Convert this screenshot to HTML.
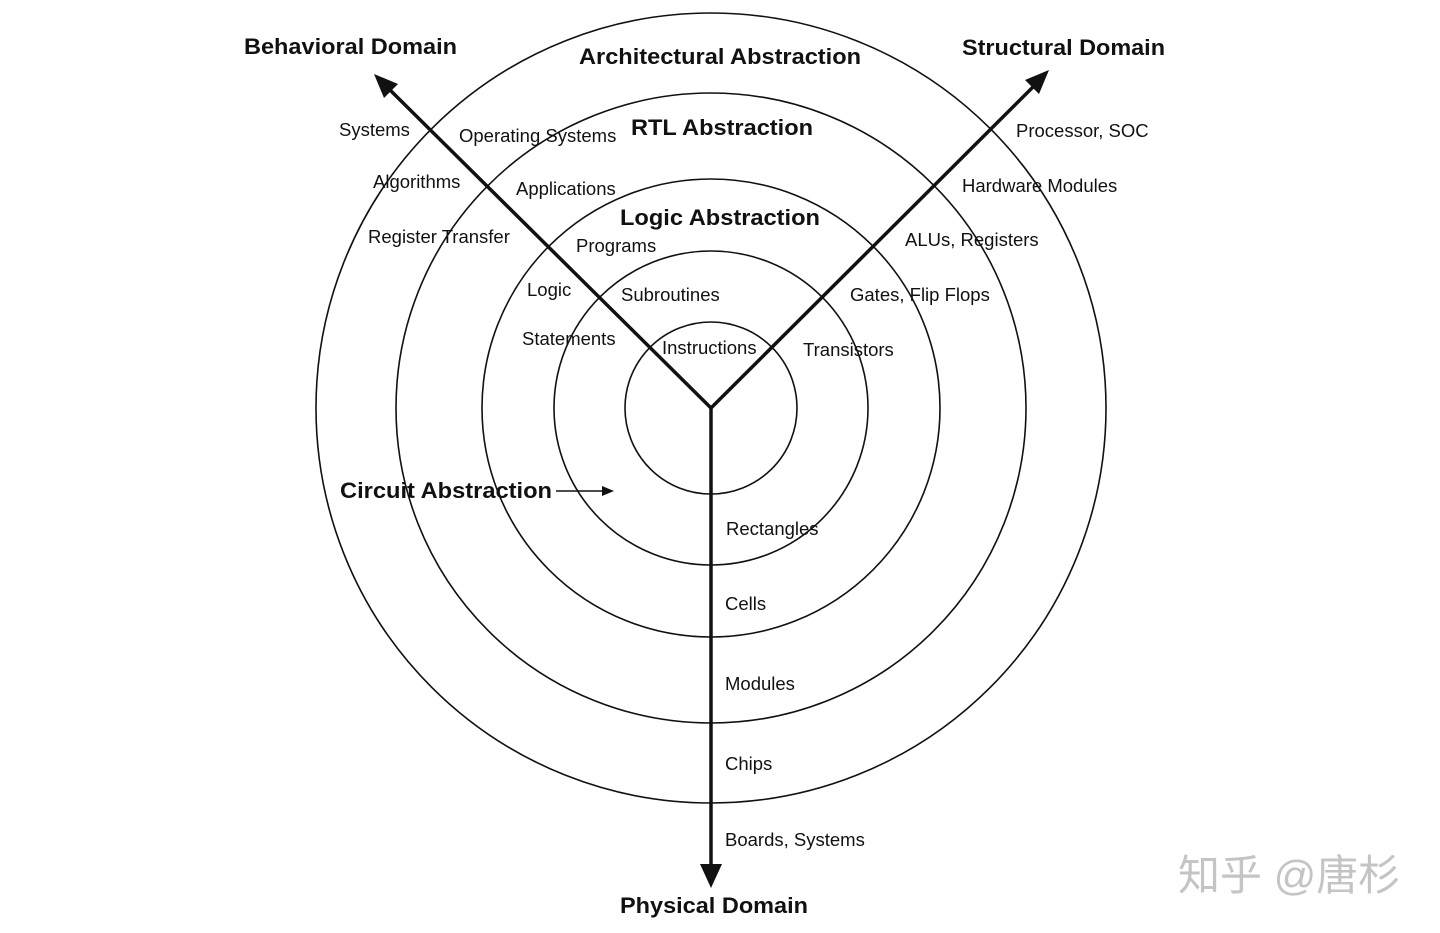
<!DOCTYPE html>
<html><head><meta charset="utf-8"><style>
html,body{margin:0;padding:0;background:#fff;}
svg{display:block;}
text{font-family:"Liberation Sans",Arial,sans-serif;fill:#111;}
.b{font-weight:bold;font-size:22.5px;}
.l{font-size:18.5px;}
</style></head><body>
<svg width="1440" height="933" viewBox="0 0 1440 933" xmlns="http://www.w3.org/2000/svg">
<g fill="none" stroke="#111" stroke-width="1.6">
<circle cx="711" cy="408" r="86"/>
<circle cx="711" cy="408" r="157"/>
<circle cx="711" cy="408" r="229"/>
<circle cx="711" cy="408" r="315"/>
<circle cx="711" cy="408" r="395"/>
</g>
<g stroke="#111" stroke-width="3.5" fill="none">
<line x1="711" y1="408" x2="388" y2="88"/>
<line x1="711" y1="408" x2="1036" y2="84"/>
<line x1="711" y1="408" x2="711" y2="868"/>
</g>
<polygon points="374,74 398,84 384,98" fill="#111"/>
<polygon points="1049,70 1039,94 1025,80" fill="#111"/>
<polygon points="711,888 700,864 722,864" fill="#111"/>
<line x1="556" y1="491" x2="604" y2="491" stroke="#111" stroke-width="1.5"/>
<polygon points="614,491 602,486 602,496" fill="#111"/>
<text class="b" x="244" y="54" textLength="213" lengthAdjust="spacingAndGlyphs">Behavioral Domain</text>
<text class="b" x="962" y="55" textLength="203" lengthAdjust="spacingAndGlyphs">Structural Domain</text>
<text class="b" x="579" y="64" textLength="282" lengthAdjust="spacingAndGlyphs">Architectural Abstraction</text>
<text class="b" x="631" y="135" textLength="182" lengthAdjust="spacingAndGlyphs">RTL Abstraction</text>
<text class="b" x="620" y="225" textLength="200" lengthAdjust="spacingAndGlyphs">Logic Abstraction</text>
<text class="b" x="340" y="498" textLength="212" lengthAdjust="spacingAndGlyphs">Circuit Abstraction</text>
<text class="b" x="620" y="913" textLength="188" lengthAdjust="spacingAndGlyphs">Physical Domain</text>
<text class="l" x="339" y="136">Systems</text>
<text class="l" x="459" y="142">Operating Systems</text>
<text class="l" x="373" y="188">Algorithms</text>
<text class="l" x="516" y="195">Applications</text>
<text class="l" x="368" y="243">Register Transfer</text>
<text class="l" x="576" y="252">Programs</text>
<text class="l" x="527" y="296">Logic</text>
<text class="l" x="621" y="301">Subroutines</text>
<text class="l" x="522" y="345">Statements</text>
<text class="l" x="662" y="354">Instructions</text>
<text class="l" x="1016" y="137">Processor, SOC</text>
<text class="l" x="962" y="192">Hardware Modules</text>
<text class="l" x="905" y="246">ALUs, Registers</text>
<text class="l" x="850" y="301">Gates, Flip Flops</text>
<text class="l" x="803" y="356">Transistors</text>
<text class="l" x="726" y="535">Rectangles</text>
<text class="l" x="725" y="610">Cells</text>
<text class="l" x="725" y="690">Modules</text>
<text class="l" x="725" y="770">Chips</text>
<text class="l" x="725" y="846">Boards, Systems</text>
<text x="1178" y="890" style="font-family:'Liberation Sans','Noto Sans CJK SC',sans-serif;font-size:42px;fill:#c4c4c4;">知乎 @唐杉</text>
</svg>
</body></html>
